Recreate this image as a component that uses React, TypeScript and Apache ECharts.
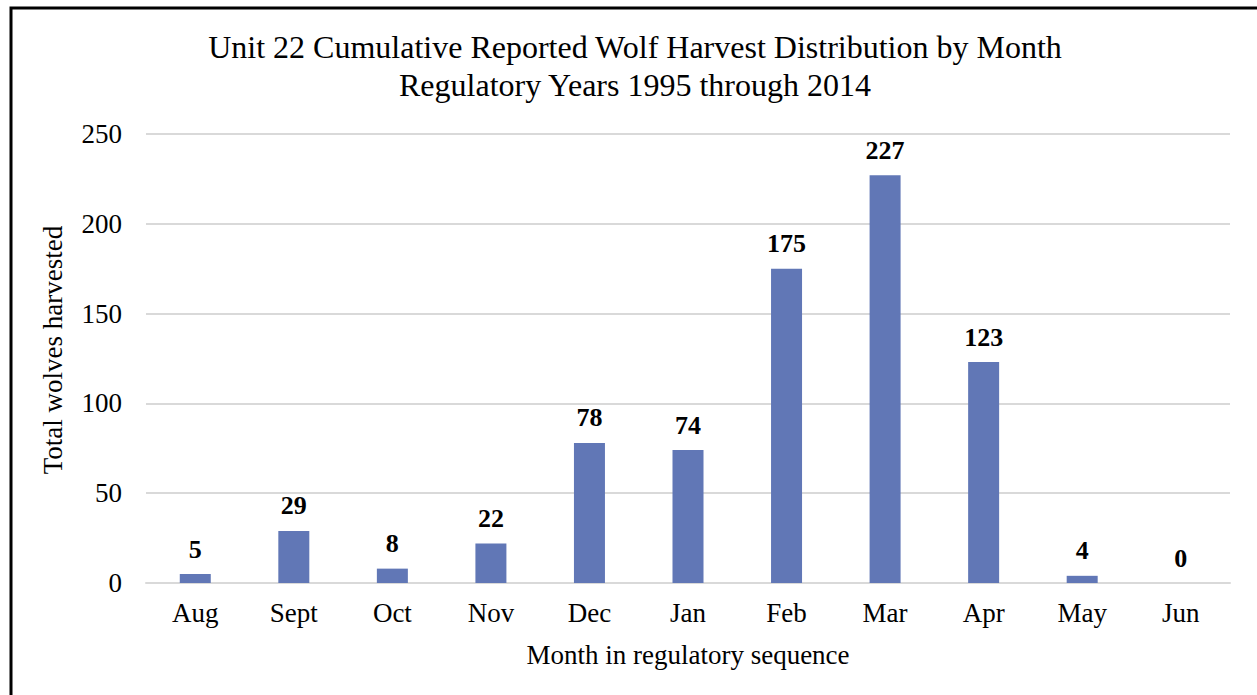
import React, { useEffect, useRef } from "react";
import * as echarts from "echarts";

const months = ["Aug", "Sept", "Oct", "Nov", "Dec", "Jan", "Feb", "Mar", "Apr", "May", "Jun"];
const wolves = [5, 29, 8, 22, 78, 74, 175, 227, 123, 4, 0];
const yTicks = [0, 50, 100, 150, 200, 250];

const titleLine1 = "Unit 22 Cumulative Reported Wolf Harvest Distribution by Month";
const titleLine2 = "Regulatory Years 1995 through 2014";
const xName = "Month in regulatory sequence";
const yName = "Total wolves harvested";

const FONT = "'Liberation Serif', 'Times New Roman', serif";

export default function App() {
  const ref = useRef<HTMLDivElement>(null);
  useEffect(() => {
    if (!ref.current) return;
    const chart = echarts.init(ref.current, undefined, { renderer: "svg" });
    chart.setOption({
      animation: false,
      backgroundColor: "#ffffff",
      textStyle: { fontFamily: FONT },
      title: {
        text: titleLine1 + "\n" + titleLine2,
        left: 630,
        top: 23,
        textAlign: "center",
        textStyle: {
          fontFamily: FONT,
          fontWeight: "normal",
          fontSize: 32,
          color: "#000",
          lineHeight: 38,
        },
      },
      graphic: [
        {
          type: "rect",
          shape: { x: 11, y: 8, width: 1300, height: 720 },
          style: { fill: "none", stroke: "#000", lineWidth: 3 },
          silent: true,
          z: 100,
        },
        {
          type: "text",
          x: 53,
          y: 350,
          rotation: Math.PI / 2,
          style: {
            text: yName,
            fontSize: 27,
            fontFamily: FONT,
            fill: "#000",
            align: "center",
            verticalAlign: "middle",
          },
          silent: true,
        },
      ],
      grid: { left: 146, right: 27, top: 134, bottom: 112, containLabel: false },
      xAxis: {
        type: "category",
        data: months,
        axisLine: { show: true, lineStyle: { color: "#d9d9d9", width: 2 } },
        axisTick: { show: false },
        axisLabel: { color: "#000", fontSize: 27, fontFamily: FONT, margin: 16 },
        name: xName,
        nameLocation: "middle",
        nameGap: 58,
        nameTextStyle: { color: "#000", fontSize: 27, fontFamily: FONT },
      },
      yAxis: {
        type: "value",
        min: yTicks[0],
        max: yTicks[yTicks.length - 1],
        interval: 50,
        axisLine: { show: false },
        axisTick: { show: false },
        splitLine: { lineStyle: { color: "#d9d9d9", width: 2 } },
        axisLabel: { color: "#000", fontSize: 27, fontFamily: FONT, margin: 24 },
      },
      series: [
        {
          type: "bar",
          data: wolves,
          barWidth: 31,
          itemStyle: { color: "#6177b6" },
          label: {
            show: true,
            position: "top",
            distance: 12,
            color: "#000",
            fontWeight: "bold",
            fontSize: 26,
            fontFamily: FONT,
          },
        },
      ],
    });
    return () => chart.dispose();
  }, []);
  return (
    <div
      ref={ref}
      style={{ position: "fixed", left: 0, top: 0, width: 1257, height: 695 }}
    />
  );
}
